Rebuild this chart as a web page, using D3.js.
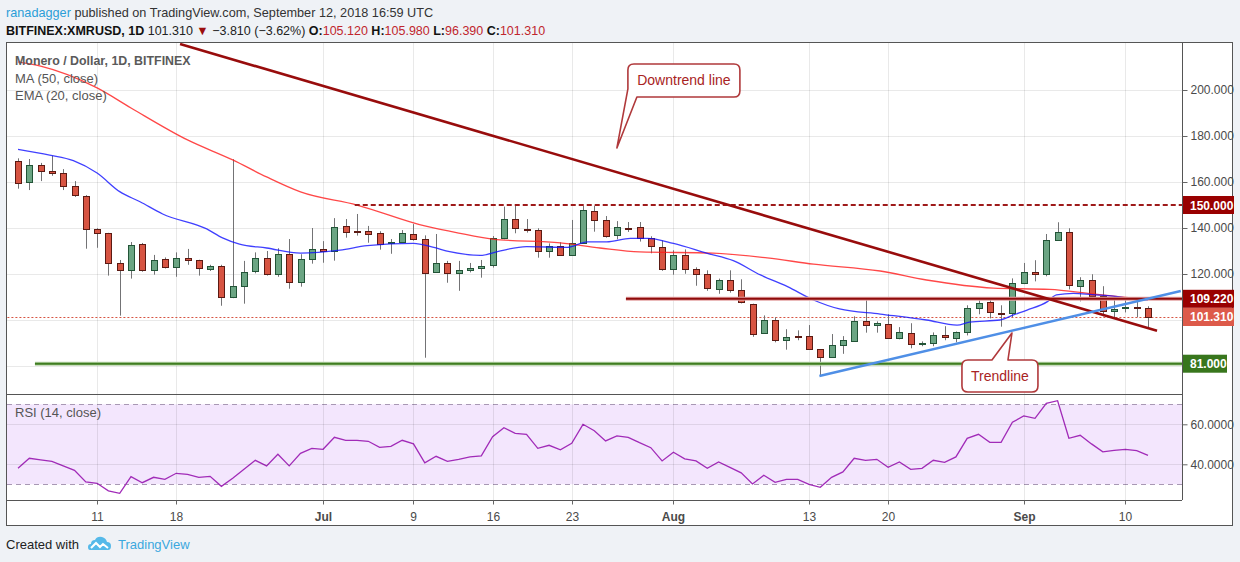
<!DOCTYPE html>
<html><head><meta charset="utf-8">
<script src="https://cdn.jsdelivr.net/npm/d3@7"></script>
<style>
html,body{margin:0;padding:0;background:#eff2f6;}
svg{display:block;font-family:"Liberation Sans",Arial,sans-serif;}
</style>
</head><body>
<svg id="c" width="1240" height="562"></svg>
<script>
// ---------------- DATA ----------------
const startDate = "2018-06-04";   // first daily candle
const open  = [169.0,159.9,167.3,164.6,163.8,158.1,153.8,139.4,137.7,124.7,121.6,132.9,121.6,126.4,123.0,126.8,126.0,122.0,123.3,109.9,114.7,121.2,126.8,119.9,128.6,116.4,126.4,130.7,129.7,140.7,138.8,138.6,137.7,133.3,133.8,137.3,135.1,120.7,124.7,120.3,121.6,122.3,123.6,135.5,143.8,139.6,139.0,129.9,132.0,128.1,133.3,147.3,143.3,136.8,140.1,140.3,135.5,131.6,121.9,128.1,122.0,119.9,113.6,117.4,112.9,107.1,94.2,99.9,91.2,93.0,92.9,87.3,83.8,89.0,90.7,99.4,97.7,98.1,92.0,94.2,89.4,89.9,93.3,92.0,94.6,105.1,107.7,103.1,102.9,116.0,120.7,119.9,134.7,138.1,114.7,117.3,110.3,103.8,104.9,105.6,105.12];
const high  = [170.3,170.0,168.3,171.4,165.6,160.4,154.3,139.9,137.9,126.1,133.9,133.5,128.3,127.2,129.4,130.9,126.2,124.0,124.0,169.9,125.7,129.4,130.0,131.2,135.2,128.6,140.0,134.3,144.3,143.9,146.1,140.9,138.6,135.2,139.1,141.7,136.8,137.4,125.7,125.7,124.8,126.1,136.5,149.3,150.0,143.9,139.9,133.3,133.8,143.5,149.6,149.7,145.2,143.0,142.6,142.6,136.4,134.6,130.3,130.7,122.9,121.6,118.0,121.6,117.7,107.1,102.0,101.2,96.0,95.5,97.8,87.3,93.9,93.0,101.6,109.3,99.4,102.5,96.9,98.6,90.7,94.6,97.3,95.0,106.4,108.6,109.0,106.4,118.1,124.8,126.0,137.4,142.5,139.9,118.6,119.9,114.7,110.3,109.9,109.3,105.98];
const low   = [157.1,156.5,160.4,162.7,156.5,153.5,131.0,131.4,119.3,101.9,118.0,121.0,119.7,122.4,118.8,124.0,119.3,121.3,106.2,109.5,107.1,120.3,119.3,118.8,113.6,114.5,124.5,124.9,125.8,135.8,136.7,133.6,130.6,128.8,133.8,134.5,83.6,120.7,116.2,112.7,120.7,118.4,122.8,135.1,137.7,138.0,127.1,127.1,128.1,128.1,133.3,138.4,135.8,135.1,138.3,134.1,129.0,121.4,119.7,120.1,114.9,112.7,111.4,111.9,107.2,92.7,94.2,90.3,87.1,91.2,87.0,76.0,83.8,85.3,90.7,94.5,94.5,92.0,91.6,87.7,88.6,88.6,91.2,90.3,93.3,102.5,100.7,97.1,101.2,115.6,116.8,119.0,134.7,113.3,108.1,110.3,101.6,101.2,103.3,101.2,96.39];
const close = [159.4,167.4,164.5,163.6,158.0,154.0,139.3,137.5,124.7,121.6,132.5,121.6,126.0,123.0,126.8,125.8,122.5,123.3,109.9,114.7,120.7,126.8,119.7,128.6,116.4,126.4,130.7,129.7,140.3,138.0,138.5,137.5,132.9,133.9,137.7,135.1,120.3,124.7,120.3,121.6,122.5,123.3,135.5,143.8,139.9,139.3,129.9,132.0,128.1,133.3,147.7,143.3,136.4,140.3,139.8,135.5,132.0,121.9,128.1,121.9,119.7,113.6,117.3,113.2,107.7,94.2,99.9,91.2,92.5,92.8,87.3,83.8,89.0,91.2,99.4,97.7,98.6,92.0,94.6,89.4,89.9,93.3,92.5,94.6,105.1,107.3,103.3,102.9,116.0,120.7,119.9,134.7,138.1,115.1,117.3,110.3,103.8,104.8,105.5,105.12,101.31];
// [day offset from start, value]
const ma50  = [[0,212.2],[2,210.4],[7,200.9],[10,192.2],[15,178.3],[19,169.6],[22,162.2],[25,155.7],[30,150.0],[36,140.9],[39,137.8],[42,135.2],[48,133.5],[51.5,131.3],[55,129.6],[61.5,129.1],[66.3,127.0],[70.4,124.3],[76.3,121.3],[80.4,117.4],[86.3,113.9],[91.3,113.3],[95.1,111.3],[99.6,109.1],[100,108.9]];
const ema20 = [[0,174.2],[2.8,171.7],[4.9,169.3],[7,163.9],[9,155.8],[10.8,151.4],[12.8,146.1],[16.7,139.6],[18.1,135.7],[19.6,133.0],[22,131.3],[25,129.1],[28.5,130.4],[30.9,132.3],[35,133.3],[36.7,131.7],[38.2,129.7],[40.9,128.1],[42.7,130.1],[45,131.9],[48.6,131.6],[50.4,134.0],[52.1,134.0],[54.2,135.5],[55.7,135.5],[58,133.3],[61,129.0],[63.3,125.8],[65.7,119.6],[68.1,114.5],[70.4,108.7],[72.7,104.8],[76.3,102.6],[80.4,100.0],[83.1,97.8],[84.2,99.1],[86.9,100.0],[88.1,102.2],[89.3,104.3],[91.1,108.0],[91.9,110.9],[93.4,111.6],[95.1,111.0],[96.9,110.4],[99,109.0],[100,108.7]];
const rsi   = [38.0,43.0,42.2,41.5,39.2,37.0,31.2,30.5,26.7,25.5,33.8,30.8,33.5,32.5,35.5,35.0,33.5,34.0,29.0,33.0,37.5,42.0,39.2,45.0,39.2,45.5,48.0,47.5,53.5,52.0,52.0,51.5,48.5,49.0,52.0,50.2,40.7,44.0,41.5,42.5,43.7,44.2,53.8,58.3,55.5,55.0,48.0,49.5,47.2,50.5,60.0,56.8,51.7,54.2,53.5,50.8,48.3,41.7,46.0,42.7,41.7,38.0,41.2,38.5,35.7,30.2,34.5,31.0,32.5,32.5,30.0,28.5,33.5,36.2,43.0,42.0,42.5,38.5,41.2,37.5,38.0,42.0,41.0,43.7,53.0,55.0,51.0,51.0,61.0,64.2,63.0,70.5,71.8,53.0,54.5,50.2,46.2,47.0,47.5,46.8,44.5];
const downtrend = [[14.34,220.0],[100.8,95.35]];
const trendline = [[70.92,75.65],[102.9,112.6]];
const levels    = [150, 109.22, 101.31, 81];       // horizontal levels with axis labels
const levelFrom = [29.8, 53.8, -2, 1.5];           // day offset where each level line starts
const priceTicks = [200,180,160,140,120];
const priceGrid  = [200,180,160,140,120,100,80];
const rsiTicks   = [60,40];
const timeTicks  = ["2018-06-11","2018-06-18","2018-07-01","2018-07-09","2018-07-16","2018-07-23","2018-08-01","2018-08-13","2018-08-20","2018-09-01","2018-09-10"];
const timeLabels = ["11","18","Jul","9","16","23","Aug","13","20","Sep","10"];
const notes = [{text:"Downtrend line", at:[53.0,174.8]},{text:"Trendline", at:[87.96,94.35]}];

// ---------------- LAYOUT ----------------
const L=7, R=1182, AX=1232, TOP=42.3, MID=394, RB=500, BOT=525;
const svg = d3.select("#c");
const t0 = d3.utcParse("%Y-%m-%d")(startDate);
const day = k => new Date(t0.getTime() + k*864e5);
const x  = d3.scaleUtc().domain([day(0), day(100)]).range([18, 1148]);
const y  = d3.scaleLinear().domain([67.83, 220.74]).range([MID, TOP]);
const yr = d3.scaleLinear().domain([22.15, 75.15]).range([RB, MID]);

// frame background
svg.append("rect").attr("x",L).attr("y",TOP).attr("width",AX-L).attr("height",BOT-TOP).attr("fill","#fff");

const defs = svg.append("defs");
defs.append("clipPath").attr("id","cm").append("rect").attr("x",L).attr("y",TOP).attr("width",R-L).attr("height",MID-TOP);
defs.append("clipPath").attr("id","cr").append("rect").attr("x",L).attr("y",MID).attr("width",R-L).attr("height",RB-MID);

// RSI band
const gR = svg.append("g").attr("clip-path","url(#cr)");
gR.append("rect").attr("x",L).attr("width",R-L).attr("y",yr(70)).attr("height",yr(30)-yr(70)).attr("fill","#f3e6fd");

// grids
const tickDates = timeTicks.map(s=>d3.utcParse("%Y-%m-%d")(s));
const grid = svg.append("g").attr("stroke","#000").attr("stroke-opacity",0.085).attr("shape-rendering","crispEdges");
grid.selectAll("line.v").data(tickDates).join("line")
  .attr("x1",d=>Math.round(x(d))+0.5).attr("x2",d=>Math.round(x(d))+0.5).attr("y1",TOP).attr("y2",RB);
grid.selectAll("line.h").data(priceGrid).join("line")
  .attr("x1",L).attr("x2",R).attr("y1",d=>Math.round(y(d))+0.5).attr("y2",d=>Math.round(y(d))+0.5);
grid.selectAll("line.r").data(rsiTicks).join("line")
  .attr("x1",L).attr("x2",R).attr("y1",d=>Math.round(yr(d))+0.5).attr("y2",d=>Math.round(yr(d))+0.5);
gR.selectAll("line.d").data([70,30]).join("line")
  .attr("x1",L).attr("x2",R).attr("y1",d=>Math.round(yr(d))+0.5).attr("y2",d=>Math.round(yr(d))+0.5)
  .attr("stroke","#a898b4").attr("stroke-dasharray","5,4");

// main pane
const gM = svg.append("g").attr("clip-path","url(#cm)");

// close dotted line drawn under candles
gM.append("line").attr("x1",x(day(levelFrom[2]))).attr("x2",R).attr("y1",Math.round(y(levels[2]))+0.5).attr("y2",Math.round(y(levels[2]))+0.5)
  .attr("stroke","#d75442").attr("stroke-dasharray","2,2");

// candles
const idx = d3.range(close.length);
const cg = gM.append("g");
const cx = i => Math.round(x(day(i)))+0.5;
cg.selectAll("line.w").data(idx).join("line")
  .attr("x1",cx).attr("x2",cx).attr("y1",i=>y(high[i])).attr("y2",i=>y(low[i]))
  .attr("stroke","#737375").attr("stroke-width",1);
cg.selectAll("rect.b").data(idx).join("rect")
  .attr("x",i=>cx(i)-3).attr("width",6)
  .attr("y",i=>Math.round(y(Math.max(open[i],close[i])))+0.5)
  .attr("height",i=>Math.max(1,Math.round(Math.abs(y(open[i])-y(close[i])))))
  .attr("fill",i=>close[i]>=open[i]?"#6ba583":"#d75442")
  .attr("stroke",i=>close[i]>=open[i]?"#225437":"#5b1a13").attr("stroke-width",1);

// MA / EMA
const ln = d3.line().x(d=>x(day(d[0]))).y(d=>y(d[1])).curve(d3.curveMonotoneX);
gM.append("path").attr("d",ln(ma50)).attr("fill","none").attr("stroke","#ff1a1a").attr("stroke-opacity",0.8).attr("stroke-width",1.3);
gM.append("path").attr("d",ln(ema20)).attr("fill","none").attr("stroke","#1010ff").attr("stroke-opacity",0.8).attr("stroke-width",1.3);

// level lines
const lv = d3.line().x(d=>x(day(d[0]))).y(d=>y(d[1]));
gM.append("line").attr("x1",x(day(levelFrom[0]))).attr("x2",R).attr("y1",y(levels[0])).attr("y2",y(levels[0]))
  .attr("stroke","#9e1a1a").attr("stroke-width",2.2).attr("stroke-dasharray","5,3");
gM.append("line").attr("x1",x(day(levelFrom[1]))).attr("x2",R).attr("y1",y(levels[1])).attr("y2",y(levels[1]))
  .attr("stroke","#e3a3a3").attr("stroke-width",4);
gM.append("line").attr("x1",x(day(levelFrom[1]))).attr("x2",R).attr("y1",y(levels[1])).attr("y2",y(levels[1]))
  .attr("stroke","#8e0b0b").attr("stroke-width",2);
gM.append("line").attr("x1",x(day(levelFrom[3]))).attr("x2",R).attr("y1",y(levels[3])).attr("y2",y(levels[3]))
  .attr("stroke","#b7d3a8").attr("stroke-width",4);
gM.append("line").attr("x1",x(day(levelFrom[3]))).attr("x2",R).attr("y1",y(levels[3])).attr("y2",y(levels[3]))
  .attr("stroke","#3f7d20").attr("stroke-width",2);

// trend lines
gM.append("path").attr("d",lv(downtrend)).attr("stroke","#980c0c").attr("stroke-width",2.6).attr("fill","none");
gM.append("path").attr("d",lv(trendline)).attr("stroke","#4f8fe6").attr("stroke-width",2.4).attr("fill","none");

// callouts
function callout(n, box, base, side){
  const tx = x(day(n.at[0])), ty = y(n.at[1]);
  const [l,r,t,b] = [tx+box[0], tx+box[1], ty+box[2], ty+box[3]], rr=6;
  let p;
  if(side==="left"){
    p = `M${l+rr},${t} H${r-rr} Q${r},${t} ${r},${t+rr} V${b-rr} Q${r},${b} ${r-rr},${b} H${tx+base[1]} L${tx},${ty} L${l},${ty+base[0]} V${t+rr} Q${l},${t} ${l+rr},${t} Z`;
  } else {
    p = `M${l+rr},${t} H${tx+base[0]} L${tx},${ty} L${tx+base[1]},${t} H${r-rr} Q${r},${t} ${r},${t+rr} V${b-rr} Q${r},${b} ${r-rr},${b} H${l+rr} Q${l},${b} ${l},${b-rr} V${t+rr} Q${l},${t} ${l+rr},${t} Z`;
  }
  svg.append("path").attr("d",p).attr("fill","#fff").attr("stroke","#b0393b").attr("stroke-width",1.6).attr("stroke-linejoin","round");
  svg.append("text").attr("x",(l+r)/2).attr("y",(t+b)/2+5).attr("text-anchor","middle")
    .attr("font-size",14).attr("fill","#a82323").text(n.text);
}
callout(notes[0],[11,123,-84,-51],[-59,20],"left");
callout(notes[1],[-50,26,27,59],[-20,-4],"top");

// RSI line
gR.append("path").attr("d",d3.line().x((d,i)=>x(day(i))).y(d=>yr(d))(rsi))
  .attr("fill","none").attr("stroke","#a12bb8").attr("stroke-width",1.3);

// frame lines
const fr = svg.append("g").attr("stroke","#555").attr("shape-rendering","crispEdges").attr("fill","none");
fr.append("rect").attr("x",L-0.5).attr("y",TOP-0.3).attr("width",AX-L+1).attr("height",BOT-TOP+0.3);
fr.append("line").attr("x1",R+0.5).attr("x2",R+0.5).attr("y1",TOP).attr("y2",RB);
fr.append("line").attr("x1",L).attr("x2",R).attr("y1",MID+0.5).attr("y2",MID+0.5);
fr.append("line").attr("x1",L).attr("x2",R).attr("y1",RB+0.5).attr("y2",RB+0.5);

// price axis
const pa = svg.append("g").attr("transform",`translate(${R+0.5},0)`)
  .call(d3.axisRight(y).tickValues(priceTicks).tickFormat(d3.format(".3f")).tickSize(5).tickPadding(3));
pa.select(".domain").remove();
pa.selectAll("line").attr("stroke","#666");
pa.selectAll("text").attr("fill","#4a4a4a").attr("font-size",12).attr("font-family","Liberation Sans, Arial, sans-serif");

// rsi axis
const ra = svg.append("g").attr("transform",`translate(${R+0.5},0)`)
  .call(d3.axisRight(yr).tickValues(rsiTicks).tickFormat(d3.format(".4f")).tickSize(5).tickPadding(3));
ra.select(".domain").remove();
ra.selectAll("line").attr("stroke","#666");
ra.selectAll("text").attr("fill","#4a4a4a").attr("font-size",12).attr("font-family","Liberation Sans, Arial, sans-serif");

// level labels
const lvFill = ["#990000","#990000","#dd5a4a","#38761d"];
const lvW = [51,51,51,44];
const lg = svg.append("g");
levels.forEach((v,k)=>{
  const yy = y(v);
  lg.append("rect").attr("x",R+1).attr("y",yy-9).attr("width",lvW[k]).attr("height",18).attr("fill",lvFill[k]);
  lg.append("text").attr("x",R+8).attr("y",yy+4.5).attr("fill","#fff").attr("font-size",12).attr("font-weight","bold").text(d3.format(".3f")(v));
});

// time axis
const ta = svg.append("g").attr("transform",`translate(0,${RB+0.5})`)
  .call(d3.axisBottom(x).tickValues(tickDates).tickFormat((d,i)=>timeLabels[i]).tickSize(4).tickPadding(8));
ta.select(".domain").remove();
ta.selectAll(".tick").attr("transform",d=>`translate(${Math.round(x(d))+0.5},0)`);
ta.selectAll("line").attr("stroke","#666");
ta.selectAll("text").attr("fill","#4a4a4a").attr("font-size",12).attr("font-family","Liberation Sans, Arial, sans-serif")
  .attr("font-weight",(d,i)=>/^[A-Z]/.test(timeLabels[i])?"bold":"normal");

// legends
const lt = svg.append("g").attr("font-size",13).attr("fill","#555");
lt.append("text").attr("x",15).attr("y",65).attr("font-weight","bold").attr("font-size",12.4).attr("fill","#5a5a5a").text("Monero / Dollar, 1D, BITFINEX");
lt.append("text").attr("x",15).attr("y",82.5).text("MA (50, close)");
lt.append("text").attr("x",15).attr("y",99.5).text("EMA (20, close)");
lt.append("text").attr("x",15).attr("y",417).text("RSI (14, close)");

// header
const h1 = svg.append("text").attr("x",6).attr("y",17).attr("font-size",12.7).attr("fill","#333");
h1.append("tspan").attr("fill","#2b9ed8").text("ranadagger");
h1.append("tspan").text(" published on TradingView.com, September 12, 2018 16:59 UTC");
const h2 = svg.append("text").attr("x",6).attr("y",35).attr("font-size",12.5).attr("fill","#222");
const red = "#c0262d";
[["BITFINEX:XMRUSD, 1D","bold","#111"],[" 101.310 ","normal","#222"],["▼","normal","#9b0e0e"],[" −3.810 (−3.62%) ","normal","#222"],
 ["O:","bold","#111"],["105.120","normal",red],[" H:","bold","#111"],["105.980","normal",red],[" L:","bold","#111"],["96.390","normal",red],[" C:","bold","#111"],["101.310","normal",red]]
 .forEach(s=>h2.append("tspan").attr("font-weight",s[1]).attr("fill",s[2]).text(s[0]));

// footer
svg.append("text").attr("x",6).attr("y",549).attr("font-size",13).attr("fill","#222").text("Created with");
const logo = svg.append("g").attr("transform","translate(88,536)");
logo.append("path").attr("d","M2,14 Q0,14 0,11 Q0,8 3,8 Q3,4 7,4 Q9,0 14,1 Q18,2 19,6 Q23,6 23,10 Q23,14 20,14 Z").attr("fill","#55b9e9");
logo.append("path").attr("d","M3,12 L8,7 L12,11 L15,8 L20,12").attr("fill","none").attr("stroke","#fff").attr("stroke-width",2);
svg.append("text").attr("x",118).attr("y",549).attr("font-size",13).attr("fill","#3ba8de").text("TradingView");
</script>
</body></html>
